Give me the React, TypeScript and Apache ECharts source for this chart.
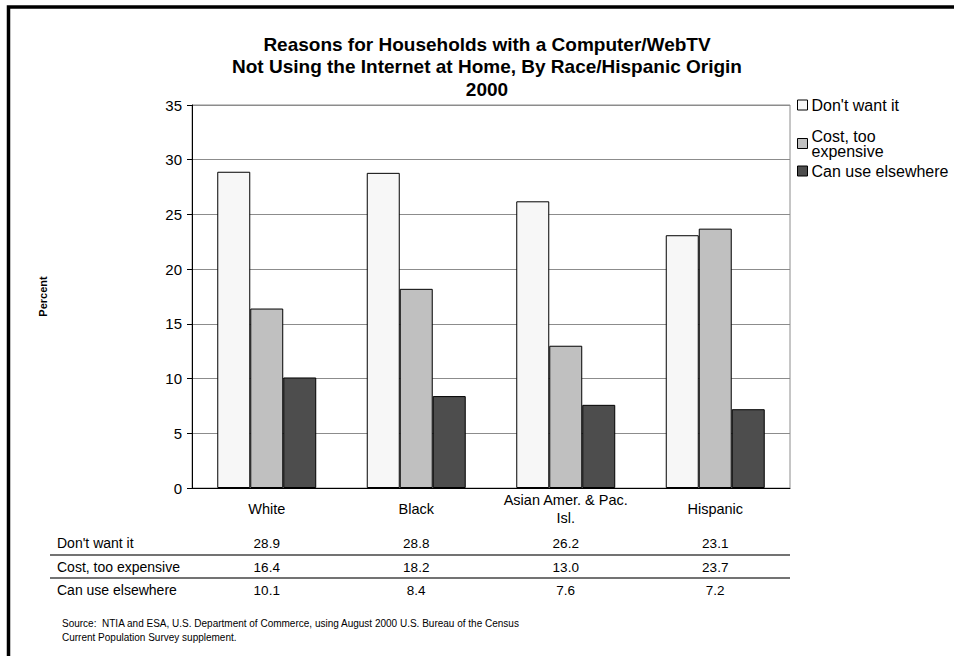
import React, { useEffect, useRef } from "react";
import * as echarts from "echarts";

const categories = ["White", "Black", "Asian Amer. & Pac.\nIsl.", "Hispanic"];
const seriesNames = ["Don't want it", "Cost, too expensive", "Can use elsewhere"];
const dontWant = [28.9, 28.8, 26.2, 23.1];
const costly = [16.4, 18.2, 13.0, 23.7];
const elsewhere = [10.1, 8.4, 7.6, 7.2];
const yTicks = { min: 0, max: 35, interval: 5 };
const titleLines = [
  "Reasons for Households with a Computer/WebTV",
  "Not Using the Internet at Home, By Race/Hispanic Origin",
  "2000",
];
const sourceLines = [
  "Source:  NTIA and ESA, U.S. Department of Commerce, using August 2000 U.S. Bureau of the Census",
  "Current Population Survey supplement.",
];

const FONT = "'Liberation Sans', Arial, sans-serif";
const colors = ["#f7f7f7", "#c0c0c0", "#4d4d4d"];

export default function App() {
  const ref = useRef<HTMLDivElement>(null);
  useEffect(() => {
    if (!ref.current) return;
    const chart = echarts.init(ref.current, undefined, { renderer: "svg" });
    const values = [dontWant, costly, elsewhere];
    const gridLeft = 192, gridRight = 790, gridTop = 105, gridBottom = 488;
    const rowY = [543, 567, 590];
    const titleY = [44, 66.5, 89];
    const valueAxes = values.map((vals, i) => ({
      type: "category",
      gridIndex: 0,
      position: "bottom",
      data: vals.map((v) => v.toFixed(1)),
      axisLine: { show: false },
      axisTick: { show: false },
      splitLine: { show: false },
      axisLabel: {
        interval: 0,
        margin: rowY[i] - gridBottom,
        verticalAlign: "middle",
        fontFamily: FONT,
        fontSize: 13.5,
        color: "#000",
      },
    }));
    const legendTops = [97, 128, 163];
    chart.setOption({
      animation: false,
      backgroundColor: "#fff",
      textStyle: { fontFamily: FONT },
      grid: {
        left: gridLeft,
        right: 954 - gridRight,
        top: gridTop,
        bottom: 656 - gridBottom,
        show: true,
        borderColor: "#8c8c8c",
        borderWidth: 1,
        backgroundColor: "transparent",
      },
      legend: seriesNames.map((name, i) => ({
        data: [name],
        left: 797,
        top: legendTops[i],
        padding: 0,
        orient: "vertical",
        icon: "rect",
        itemWidth: 10,
        itemHeight: 10,
        itemGap: 2,
        selectedMode: false,
        formatter: (n: string) => (n === "Cost, too expensive" ? "Cost, too\nexpensive" : n),
        itemStyle: { borderColor: "#000", borderWidth: 1 },
        textStyle: { fontFamily: FONT, fontSize: 16, color: "#000", lineHeight: 15, padding: [0, 0, 0, -1] },
      })),
      xAxis: [
        {
          type: "category",
          data: categories,
          axisLine: { lineStyle: { color: "#000", width: 1 } },
          axisTick: { show: false },
          axisLabel: {
            interval: 0,
            margin: 21,
            verticalAlign: "middle",
            fontFamily: FONT,
            fontSize: 14.5,
            lineHeight: 18,
            color: "#000",
          },
        },
        ...valueAxes,
      ],
      yAxis: {
        type: "value",
        min: yTicks.min,
        max: yTicks.max,
        interval: yTicks.interval,
        name: "Percent",
        nameLocation: "middle",
        nameRotate: 90,
        nameGap: 144,
        nameTextStyle: { fontFamily: FONT, fontSize: 11, fontWeight: "bold", color: "#000" },
        axisLine: { show: true, lineStyle: { color: "#000", width: 1 } },
        axisTick: { show: true, length: 5, lineStyle: { color: "#000" } },
        axisLabel: { fontFamily: FONT, fontSize: 15, color: "#000", margin: 10 },
        splitLine: { lineStyle: { color: "#8c8c8c", width: 1 } },
      },
      series: seriesNames.map((name, i) => ({
        name,
        type: "bar",
        xAxisIndex: 0,
        data: values[i],
        barGap: "0%",
        barCategoryGap: "33.8%",
        itemStyle: { color: colors[i], borderColor: "#000", borderWidth: 1 },
      })),
      graphic: [
        {
          type: "polyline",
          shape: { points: [[8.5, 656], [8.5, 7], [954, 7]] },
          style: { stroke: "#000", lineWidth: 3.5, fill: "none" },
          silent: true,
        },
        ...titleLines.map((t, i) => ({
          type: "text",
          x: 487,
          y: titleY[i],
          style: {
            text: t,
            fontFamily: FONT,
            fontSize: 19,
            fontWeight: "bold",
            fill: "#000",
            align: "center",
            verticalAlign: "middle",
          },
        })),
        ...seriesNames.map((n, i) => ({
          type: "text",
          x: 57,
          y: rowY[i],
          style: { text: n, fontFamily: FONT, fontSize: 14, fill: "#000", verticalAlign: "middle" },
        })),
        ...[555, 578].map((y) => ({
          type: "line",
          shape: { x1: 50, y1: y, x2: gridRight, y2: y },
          style: { stroke: "#444", lineWidth: 1.5 },
        })),
        ...sourceLines.map((t, i) => ({
          type: "text",
          x: 62,
          y: 623 + i * 14,
          style: { text: t, fontFamily: FONT, fontSize: 10, fill: "#000", verticalAlign: "middle" },
        })),
      ],
    });
    return () => chart.dispose();
  }, []);
  return (
    <div
      ref={ref}
      style={{ position: "absolute", left: 0, top: 0, width: 954, height: 656, overflow: "hidden" }}
    />
  );
}
